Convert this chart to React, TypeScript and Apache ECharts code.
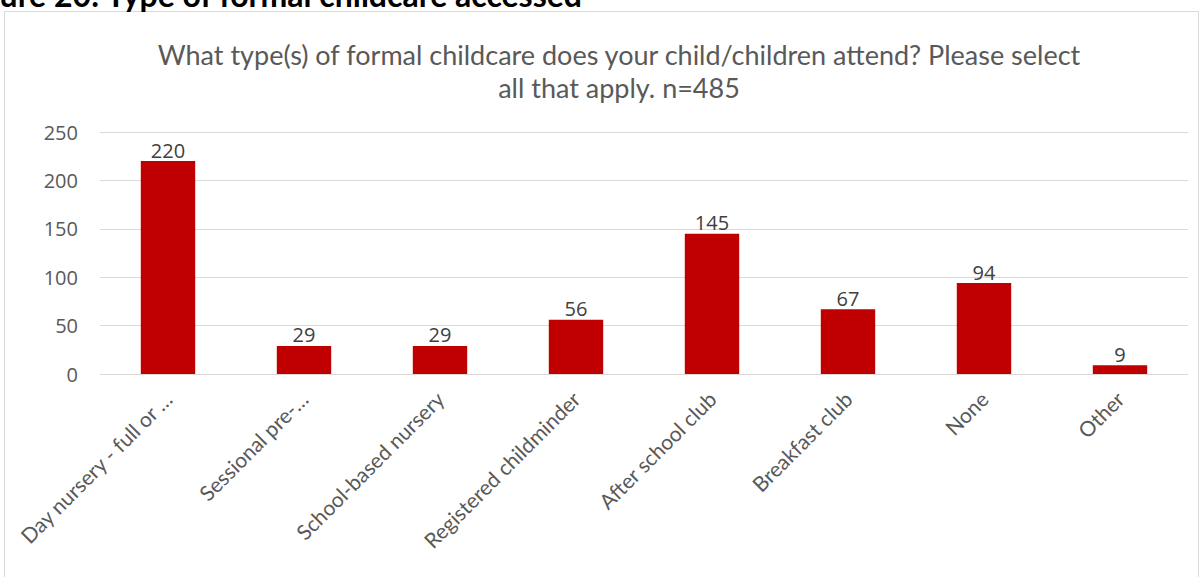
import React, { useEffect, useRef } from "react";
import * as echarts from "echarts";

const categories = [
  "Day nursery - full or …",
  "Sessional pre-…",
  "School-based nursery",
  "Registered childminder",
  "After school club",
  "Breakfast club",
  "None",
  "Other",
];
const counts = [220, 29, 29, 56, 145, 67, 94, 9];
const yTicks = [0, 50, 100, 150, 200, 250];

const heading = "Figure 20: Type of formal childcare accessed";
const chartTitle =
  "What type(s) of formal childcare does your child/children attend? Please select\nall that apply. n=485";

export default function App() {
  const ref = useRef<HTMLDivElement>(null);

  useEffect(() => {
    if (!ref.current) return;
    const chart = echarts.init(ref.current, undefined, { renderer: "svg" });
    chart.setOption({
      animation: false,
      backgroundColor: "#ffffff",
      textStyle: { fontFamily: "Lato" },
      graphic: [
        {
          type: "rect",
          shape: { x: 4.5, y: 11.5, width: 1194, height: 580 },
          style: { fill: "none", stroke: "#d9d9d9", lineWidth: 1 },
          z: -1,
        },
        {
          type: "text",
          x: 582,
          y: 10,
          style: {
            text: heading,
            fill: "#000000",
            font: "bold 32px Lato",
            textAlign: "right",
            textVerticalAlign: "bottom",
          },
        },
      ],
      title: {
        text: chartTitle,
        left: 614,
        textAlign: "center",
        top: 33,
        textStyle: {
          color: "#595959",
          fontSize: 27,
          fontWeight: "normal",
          fontFamily: "Lato",
          lineHeight: 33,
        },
      },
      grid: { left: 100, right: 11, top: 132, bottom: 203, containLabel: false },
      xAxis: {
        type: "category",
        data: categories,
        axisLine: { show: true, lineStyle: { color: "#d9d9d9", width: 1 } },
        axisTick: { show: false },
        axisLabel: {
          rotate: 45,
          color: "#595959",
          fontSize: 21,
          fontFamily: "Lato",
          interval: 0,
          margin: 21,
        },
      },
      yAxis: {
        type: "value",
        min: yTicks[0],
        max: yTicks[yTicks.length - 1],
        interval: 50,
        axisLine: { show: false },
        axisTick: { show: false },
        splitLine: { lineStyle: { color: "#d9d9d9", width: 1 } },
        axisLabel: { color: "#595959", fontSize: 20, fontFamily: "Open Sans", margin: 22 },
      },
      series: [
        {
          type: "bar",
          data: counts,
          barWidth: "40%",
          itemStyle: { color: "#c00000" },
          label: {
            show: true,
            position: "top",
            distance: 1,
            color: "#404040",
            fontSize: 20,
            fontFamily: "Open Sans",
          },
        },
      ],
    });
    return () => chart.dispose();
  }, []);

  return (
    <div
      ref={ref}
      style={{ position: "fixed", left: 0, top: 0, width: 1199, height: 577 }}
    />
  );
}
